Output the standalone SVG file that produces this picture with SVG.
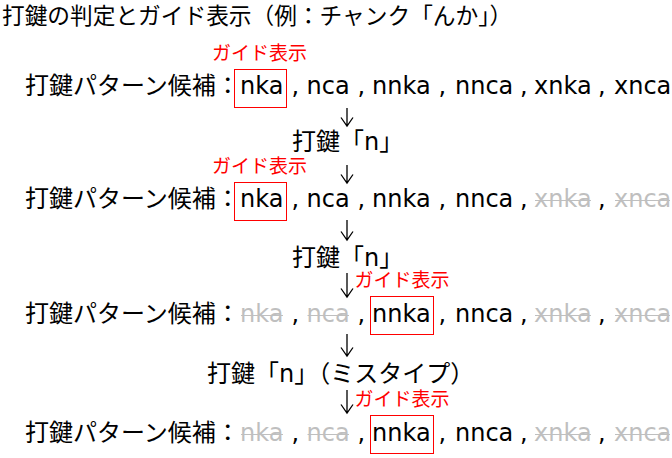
<svg xmlns="http://www.w3.org/2000/svg" width="672" height="458" viewBox="0 0 672 458">
<style>
text{font-family:"DejaVu Sans","Noto Sans CJK JP",sans-serif;fill:#000}
.t{font-size:22.7px}
.r{font-size:24px}
.g{fill:#bfbfbf}
.s{stroke:#bfbfbf;stroke-width:1;fill:none}
.lab{font-size:19px;fill:#ff0000}
.box{fill:none;stroke:#ff0000;stroke-width:1}
.arr{fill:none;stroke:#000;stroke-width:1.3}
</style>
<rect width="672" height="458" fill="#fff"/>
<g id="title"><text class="t" x="2" y="24">打鍵の判定とガイド表示（例：チャンク「んか」）</text></g>

<g id="row1" transform="translate(0,94)">
<text class="lab" x="212" y="-34.5">ガイド表示</text>
<rect class="box" x="234.5" y="-24.5" width="52" height="38"/>
<text class="r" x="25" y="0">打鍵パターン候補：</text>
<text class="r" x="240" y="0">nka</text>
<text class="r" x="291.5" y="0">,</text>
<text class="r" x="306.5" y="0">nca</text>
<text class="r" x="357.5" y="0">,</text>
<text class="r" x="372" y="0">nnka</text>
<text class="r" x="438.5" y="0">,</text>
<text class="r" x="455" y="0">nnca</text>
<text class="r" x="520" y="0">,</text>
<text class="r" x="534" y="0">xnka</text>
<text class="r" x="598" y="0">,</text>
<text class="r" x="614" y="0">xnca</text>
</g>

<g id="step1"><text class="r" x="292" y="150">打鍵「n」</text></g>

<g id="row2" transform="translate(0,207)">
<text class="lab" x="212" y="-34.5">ガイド表示</text>
<rect class="box" x="234.5" y="-24.5" width="52" height="38"/>
<text class="r" x="25" y="0">打鍵パターン候補：</text>
<text class="r" x="240" y="0">nka</text>
<text class="r" x="291.5" y="0">,</text>
<text class="r" x="306.5" y="0">nca</text>
<text class="r" x="357.5" y="0">,</text>
<text class="r" x="372" y="0">nnka</text>
<text class="r" x="438.5" y="0">,</text>
<text class="r" x="455" y="0">nnca</text>
<text class="r" x="520" y="0">,</text>
<text class="r g" x="534" y="0">xnka</text>
<text class="r" x="598" y="0">,</text>
<text class="r g" x="614" y="0">xnca</text>
<path class="s" d="M535 -6.5H591M615 -6.5H670"/>
</g>

<g id="step2"><text class="r" x="292" y="266">打鍵「n」</text></g>

<g id="row3" transform="translate(0,321.5)">
<text class="lab" x="354.5" y="-34.5">ガイド表示</text>
<rect class="box" x="370.5" y="-25" width="63" height="38"/>
<text class="r" x="25" y="0">打鍵パターン候補：</text>
<text class="r g" x="240" y="0">nka</text>
<text class="r" x="291.5" y="0">,</text>
<text class="r g" x="306.5" y="0">nca</text>
<text class="r" x="357.5" y="0">,</text>
<text class="r" x="372" y="0">nnka</text>
<text class="r" x="438.5" y="0">,</text>
<text class="r" x="455" y="0">nnca</text>
<text class="r" x="520" y="0">,</text>
<text class="r g" x="534" y="0">xnka</text>
<text class="r" x="598" y="0">,</text>
<text class="r g" x="614" y="0">xnca</text>
<path class="s" d="M241 -6H283M307.5 -6H349M535 -6H591M615 -6H670"/>
</g>

<g id="step3"><text class="r" x="207" y="381.5">打鍵「n」（ミスタイプ）</text></g>

<g id="row4" transform="translate(0,440.5)">
<text class="lab" x="354.5" y="-35">ガイド表示</text>
<rect class="box" x="370.5" y="-25" width="63" height="38"/>
<text class="r" x="25" y="0">打鍵パターン候補：</text>
<text class="r g" x="240" y="0">nka</text>
<text class="r" x="291.5" y="0">,</text>
<text class="r g" x="306.5" y="0">nca</text>
<text class="r" x="357.5" y="0">,</text>
<text class="r" x="372" y="0">nnka</text>
<text class="r" x="438.5" y="0">,</text>
<text class="r" x="455" y="0">nnca</text>
<text class="r" x="520" y="0">,</text>
<text class="r g" x="534" y="0">xnka</text>
<text class="r" x="598" y="0">,</text>
<text class="r g" x="614" y="0">xnca</text>
<path class="s" d="M241 -6H283M307.5 -6H349M535 -6H591M615 -6H670"/>
</g>

<g id="connectors">
<path class="arr" d="M347 108V126M341 117.5L347 126L353 117.5"/>
<path class="arr" d="M347 165V183M341 174.5L347 183L353 174.5"/>
<path class="arr" d="M347 220V240M341 231.5L347 240L353 231.5"/>
<path class="arr" d="M347 273V297M341 288.5L347 297L353 288.5"/>
<path class="arr" d="M347 334V356M341 347.5L347 356L353 347.5"/>
<path class="arr" d="M347 390V413M341 404.5L347 413L353 404.5"/>
</g>
</svg>
